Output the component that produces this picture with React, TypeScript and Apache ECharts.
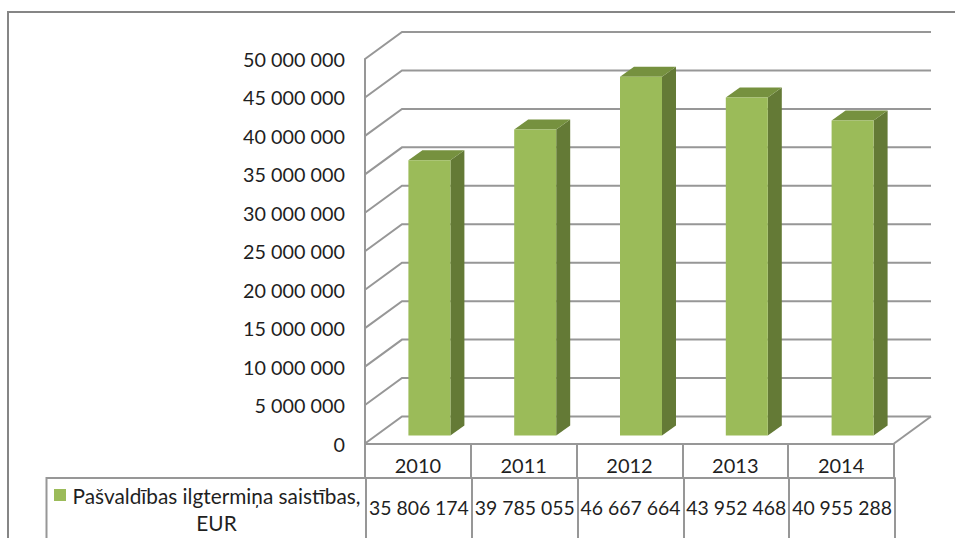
import React, { useEffect, useRef } from "react";
import * as echarts from "echarts";

const years = ["2010", "2011", "2012", "2013", "2014"];
const debt = [35806174, 39785055, 46667664, 43952468, 40955288];
const yTicks = [0, 5000000, 10000000, 15000000, 20000000, 25000000, 30000000, 35000000, 40000000, 45000000, 50000000];
const legendLine1 = "Pašvaldības ilgtermiņa saistības,";
const legendLine2 = "EUR";

const fmt = (v: number) => String(v).replace(/\B(?=(\d{3})+(?!\d))/g, " ");

const FONT = "Lato";
const TEXT = "#1f1f1f";
const LINE = "#979797";
const WALL_DX = 37;
const WALL_DY = -27;
const BAR_W = 42;
const BAR_DX = 14;
const BAR_DY = -10;
const BAR_SHIFT_X = 11.5;
const BAR_SHIFT_Y = -8;

export default function App() {
  const ref = useRef<HTMLDivElement>(null);
  useEffect(() => {
    const chart = echarts.init(ref.current!, undefined, { renderer: "svg" });
    const lineStyle = { stroke: LINE, lineWidth: 2, fill: "none" };
    chart.setOption({
      animation: false,
      backgroundColor: "#ffffff",
      grid: [
        { left: 365, width: 529, top: 59, height: 384.5 },
        { left: 366, width: 529, top: 477, height: 1 },
      ],
      xAxis: [
        {
          gridIndex: 0,
          type: "category",
          data: years,
          axisLine: { show: true, lineStyle: { color: LINE, width: 2 } },
          axisTick: { show: true, length: 34, lineStyle: { color: LINE, width: 2 } },
          axisLabel: { color: TEXT, fontFamily: FONT, fontSize: 20, margin: 11 },
        },
        {
          gridIndex: 1,
          type: "category",
          data: debt.map(fmt),
          axisLine: { show: true, lineStyle: { color: LINE, width: 2 } },
          axisTick: { show: true, length: 62, lineStyle: { color: LINE, width: 2 } },
          axisLabel: { color: TEXT, fontFamily: FONT, fontSize: 19.4, margin: 20, interval: 0 },
        },
      ],
      yAxis: [
        {
          gridIndex: 0,
          type: "value",
          min: 0,
          max: 50000000,
          interval: 5000000,
          axisLine: { show: true, lineStyle: { color: LINE, width: 2 } },
          axisTick: { show: false },
          splitLine: { show: false },
          axisLabel: {
            color: TEXT,
            fontFamily: FONT,
            fontSize: 19.8,
            margin: 20,
            formatter: (v: number) => fmt(v),
          },
        },
        { gridIndex: 1, type: "value", show: false },
      ],
      series: [
        {
          type: "custom",
          name: "walls",
          xAxisIndex: 0,
          yAxisIndex: 0,
          clip: false,
          silent: true,
          z: 1,
          data: yTicks.map((v) => [0, v]),
          encode: { x: 0, y: 1 },
          renderItem: (_p: any, api: any) => {
            const [cx, y] = api.coord([api.value(0), api.value(1)]);
            const band = api.size([1, 0])[0];
            const x0 = cx - band / 2;
            const x1 = x0 + band * years.length;
            const children: any[] = [
              {
                type: "polyline",
                shape: { points: [[x0, y], [x0 + WALL_DX, y + WALL_DY], [x1 + WALL_DX, y + WALL_DY]] },
                style: lineStyle,
              },
            ];
            if (api.value(1) === 0) {
              children.push({
                type: "line",
                shape: { x1: x1, y1: y, x2: x1 + WALL_DX, y2: y + WALL_DY },
                style: lineStyle,
              });
            }
            return { type: "group", children };
          },
        },
        {
          type: "custom",
          name: "Pašvaldības ilgtermiņa saistības, EUR",
          xAxisIndex: 0,
          yAxisIndex: 0,
          clip: false,
          silent: true,
          z: 2,
          data: debt.map((v, i) => [i, v]),
          encode: { x: 0, y: 1 },
          renderItem: (_p: any, api: any) => {
            const [cx, yTop0] = api.coord([api.value(0), api.value(1)]);
            const [, yBase0] = api.coord([api.value(0), 0]);
            const l = cx + BAR_SHIFT_X - BAR_W / 2;
            const r = l + BAR_W;
            const t = yTop0 + BAR_SHIFT_Y;
            const b = yBase0 + BAR_SHIFT_Y;
            return {
              type: "group",
              children: [
                {
                  type: "polygon",
                  shape: { points: [[r, t], [r + BAR_DX, t + BAR_DY], [r + BAR_DX, b + BAR_DY], [r, b]] },
                  style: { fill: "#647A36" },
                },
                {
                  type: "polygon",
                  shape: { points: [[l, t], [l + BAR_DX, t + BAR_DY], [r + BAR_DX, t + BAR_DY], [r, t]] },
                  style: { fill: "#76913F" },
                },
                {
                  type: "rect",
                  shape: { x: l, y: t, width: BAR_W, height: b - t },
                  style: { fill: "#9BBB59" },
                },
              ],
            };
          },
        },
      ],
      graphic: [
        {
          type: "polyline",
          silent: true,
          shape: { points: [[8, 538], [8, 12], [955, 12]] },
          style: { stroke: "#868686", lineWidth: 2, fill: "none" },
        },
        {
          type: "polyline",
          silent: true,
          shape: { points: [[46.5, 538], [46.5, 478], [366, 478]] },
          style: { stroke: LINE, lineWidth: 2, fill: "none" },
        },
        { type: "rect", silent: true, shape: { x: 54, y: 489, width: 12, height: 12 }, style: { fill: "#9BBB59" } },
        {
          type: "text",
          silent: true,
          x: 216.5,
          y: 495,
          style: { text: legendLine1, fill: TEXT, font: `20.8px ${FONT}`, textAlign: "center", textVerticalAlign: "middle" },
        },
        {
          type: "text",
          silent: true,
          x: 216.5,
          y: 522,
          style: { text: legendLine2, fill: TEXT, font: `20.8px ${FONT}`, textAlign: "center", textVerticalAlign: "middle" },
        },
      ],
    });
    return () => chart.dispose();
  }, []);
  return <div ref={ref} style={{ position: "fixed", left: 0, top: 0, width: 955, height: 538 }} />;
}
